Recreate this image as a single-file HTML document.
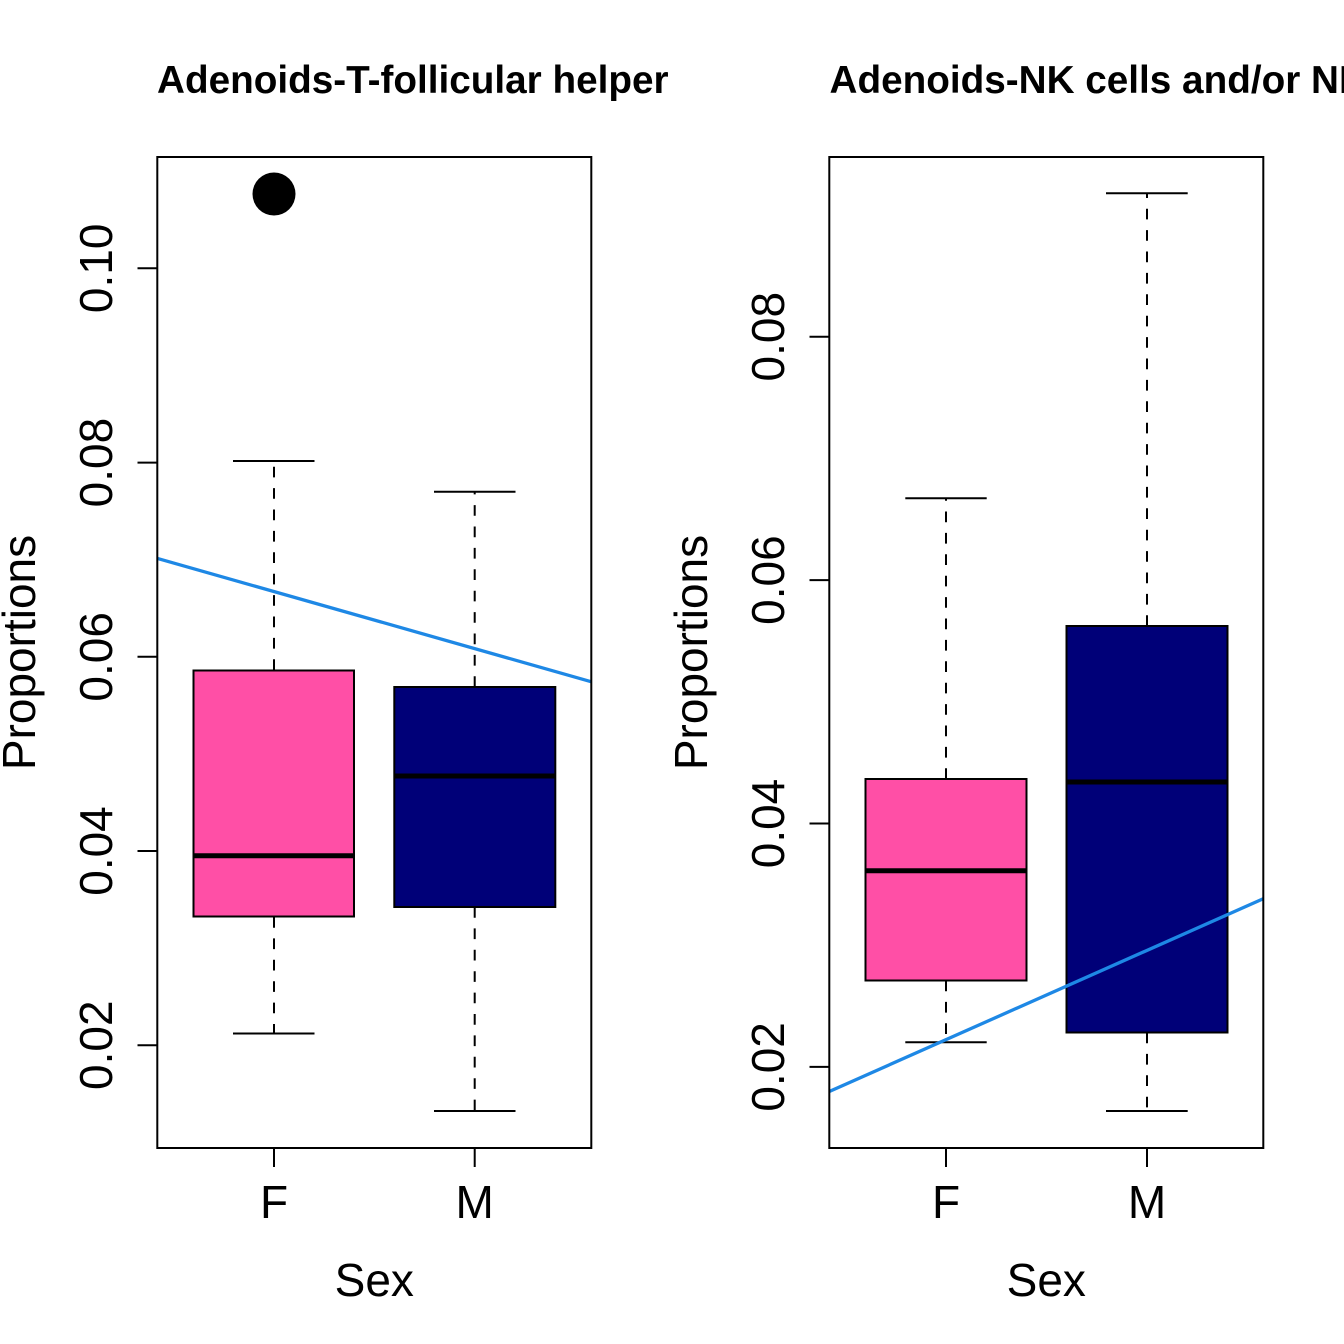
<!DOCTYPE html>
<html>
<head>
<meta charset="utf-8">
<style>
html,body{margin:0;padding:0;background:#fff;}
svg{display:block;}
text{font-family:"Liberation Sans",Arial,sans-serif;fill:#000;}
</style>
</head>
<body>
<svg width="1344" height="1344" viewBox="0 0 1344 1344" xmlns="http://www.w3.org/2000/svg">
<rect x="0" y="0" width="1344" height="1344" fill="#fff"/>

<!-- ================= LEFT PANEL ================= -->
<text x="157" y="93" font-size="38.7" font-weight="bold">Adenoids-T-follicular helper</text>

<!-- whiskers F -->
<line x1="274" y1="670" x2="274" y2="461" stroke="#000" stroke-width="2" stroke-dasharray="10.7,10.7"/>
<line x1="274" y1="917" x2="274" y2="1033" stroke="#000" stroke-width="2" stroke-dasharray="10.7,10.7"/>
<line x1="233" y1="461" x2="314.5" y2="461" stroke="#000" stroke-width="2"/>
<line x1="233" y1="1033.5" x2="314.5" y2="1033.5" stroke="#000" stroke-width="2"/>
<!-- box F -->
<rect x="193.5" y="670.5" width="160.5" height="246" fill="#FF4FA6" stroke="#000" stroke-width="2"/>
<line x1="193.5" y1="855.7" x2="354" y2="855.7" stroke="#000" stroke-width="5"/>

<!-- whiskers M -->
<line x1="474.7" y1="687" x2="474.7" y2="491.7" stroke="#000" stroke-width="2" stroke-dasharray="10.7,10.7"/>
<line x1="474.7" y1="907" x2="474.7" y2="1111" stroke="#000" stroke-width="2" stroke-dasharray="10.7,10.7"/>
<line x1="434" y1="491.7" x2="515.5" y2="491.7" stroke="#000" stroke-width="2"/>
<line x1="434" y1="1111" x2="515.5" y2="1111" stroke="#000" stroke-width="2"/>
<!-- box M -->
<rect x="394.3" y="687" width="161" height="220" fill="#000078" stroke="#000" stroke-width="2"/>
<line x1="394.3" y1="776" x2="555.3" y2="776" stroke="#000" stroke-width="5"/>

<!-- outlier -->
<circle cx="274" cy="194" r="21.5" fill="#000"/>

<!-- trend line -->
<line x1="157" y1="558.3" x2="591.5" y2="681.8" stroke="#1E88E5" stroke-width="3.3"/>

<!-- axes box -->
<rect x="157.3" y="157" width="434" height="991" fill="none" stroke="#000" stroke-width="2"/>

<!-- y ticks -->
<g stroke="#000" stroke-width="2">
<line x1="137.5" y1="268.3" x2="157.3" y2="268.3"/>
<line x1="137.5" y1="462.6" x2="157.3" y2="462.6"/>
<line x1="137.5" y1="656.8" x2="157.3" y2="656.8"/>
<line x1="137.5" y1="851" x2="157.3" y2="851"/>
<line x1="137.5" y1="1045.2" x2="157.3" y2="1045.2"/>
<line x1="274" y1="1148" x2="274" y2="1167"/>
<line x1="474.7" y1="1148" x2="474.7" y2="1167"/>
</g>
<g font-size="46" text-anchor="middle">
<text x="112" y="268.3" transform="rotate(-90 112 268.3)">0.10</text>
<text x="112" y="462.6" transform="rotate(-90 112 462.6)">0.08</text>
<text x="112" y="656.8" transform="rotate(-90 112 656.8)">0.06</text>
<text x="112" y="851" transform="rotate(-90 112 851)">0.04</text>
<text x="112" y="1045.2" transform="rotate(-90 112 1045.2)">0.02</text>
<text x="274" y="1218">F</text>
<text x="474.7" y="1218">M</text>
<text x="374.3" y="1296">Sex</text>
<text x="35" y="652.5" transform="rotate(-90 35 652.5)">Proportions</text>
</g>

<!-- ================= RIGHT PANEL ================= -->
<text x="829.5" y="93" font-size="38.7" font-weight="bold">Adenoids-NK cells and/or NKT cells</text>

<!-- whiskers F -->
<line x1="946" y1="779" x2="946" y2="498.3" stroke="#000" stroke-width="2" stroke-dasharray="10.7,10.7"/>
<line x1="946" y1="980.5" x2="946" y2="1042.3" stroke="#000" stroke-width="2" stroke-dasharray="10.7,10.7"/>
<line x1="905.3" y1="498.3" x2="986.7" y2="498.3" stroke="#000" stroke-width="2"/>
<line x1="905.3" y1="1042.3" x2="986.7" y2="1042.3" stroke="#000" stroke-width="2"/>
<!-- box F -->
<rect x="865.5" y="779" width="161" height="201.5" fill="#FF4FA6" stroke="#000" stroke-width="2"/>
<line x1="865.5" y1="870.7" x2="1026.5" y2="870.7" stroke="#000" stroke-width="5"/>

<!-- whiskers M -->
<line x1="1147" y1="626" x2="1147" y2="193.3" stroke="#000" stroke-width="2" stroke-dasharray="10.7,10.7"/>
<line x1="1147" y1="1032.5" x2="1147" y2="1111" stroke="#000" stroke-width="2" stroke-dasharray="10.7,10.7"/>
<line x1="1106" y1="193.3" x2="1187.7" y2="193.3" stroke="#000" stroke-width="2"/>
<line x1="1106" y1="1111" x2="1187.7" y2="1111" stroke="#000" stroke-width="2"/>
<!-- box M -->
<rect x="1066.5" y="626" width="161" height="406.5" fill="#000078" stroke="#000" stroke-width="2"/>
<line x1="1066.5" y1="782" x2="1227.5" y2="782" stroke="#000" stroke-width="5"/>

<!-- trend line -->
<line x1="829.3" y1="1091.5" x2="1263.5" y2="898.6" stroke="#1E88E5" stroke-width="3.3"/>

<!-- axes box -->
<rect x="829.3" y="157" width="434" height="991" fill="none" stroke="#000" stroke-width="2"/>

<g stroke="#000" stroke-width="2">
<line x1="809.5" y1="336.7" x2="829.3" y2="336.7"/>
<line x1="809.5" y1="580.1" x2="829.3" y2="580.1"/>
<line x1="809.5" y1="823.5" x2="829.3" y2="823.5"/>
<line x1="809.5" y1="1066.9" x2="829.3" y2="1066.9"/>
<line x1="946" y1="1148" x2="946" y2="1167"/>
<line x1="1147" y1="1148" x2="1147" y2="1167"/>
</g>
<g font-size="46" text-anchor="middle">
<text x="784" y="336.7" transform="rotate(-90 784 336.7)">0.08</text>
<text x="784" y="580.1" transform="rotate(-90 784 580.1)">0.06</text>
<text x="784" y="823.5" transform="rotate(-90 784 823.5)">0.04</text>
<text x="784" y="1066.9" transform="rotate(-90 784 1066.9)">0.02</text>
<text x="946" y="1218">F</text>
<text x="1147" y="1218">M</text>
<text x="1046.3" y="1296">Sex</text>
<text x="707" y="652.5" transform="rotate(-90 707 652.5)">Proportions</text>
</g>
</svg>
</body>
</html>
